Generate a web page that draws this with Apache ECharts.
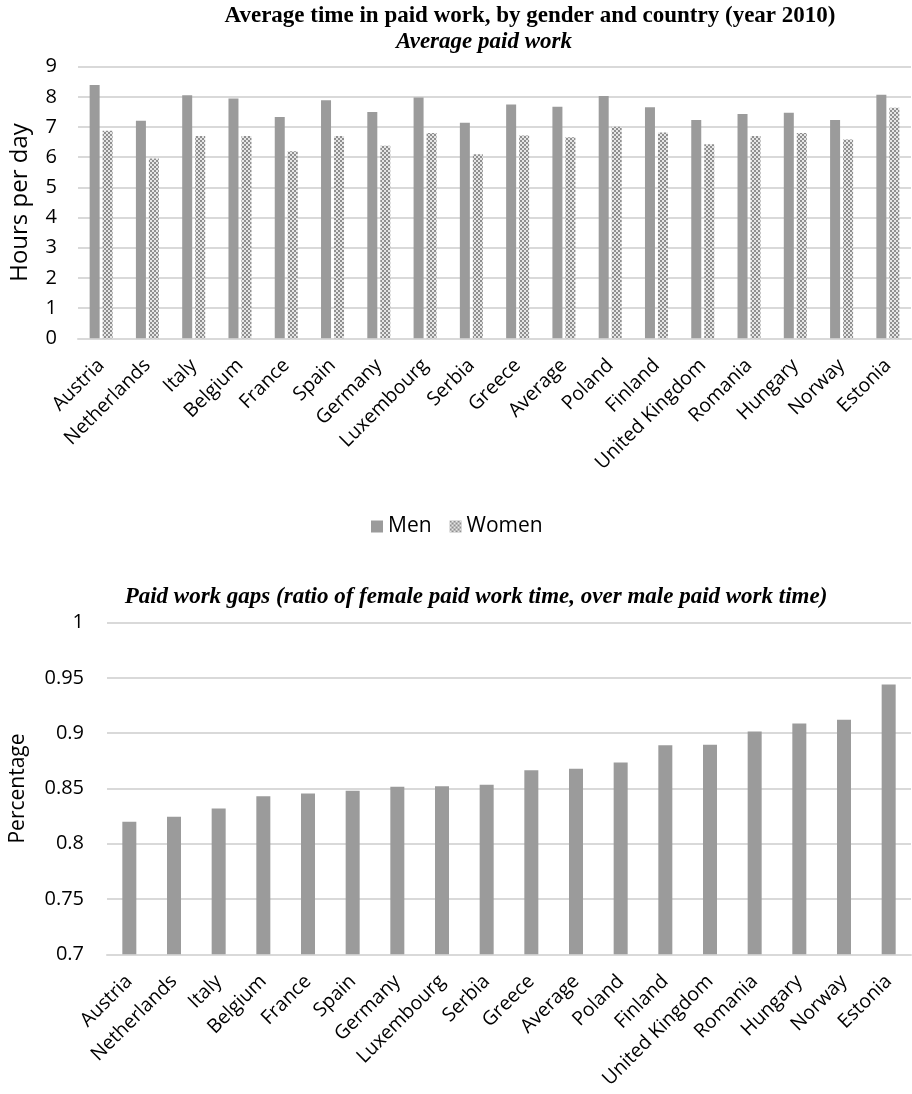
<!DOCTYPE html>
<html>
<head>
<meta charset="utf-8">
<script src="https://cdn.jsdelivr.net/npm/echarts@6/dist/echarts.min.js"></script>
<style>
html,body{margin:0;padding:0;background:#fff;}
#chart{width:912px;height:1094px;}
</style>
</head>
<body>
<div id="chart"></div>
<script>
const categories = ['Austria','Netherlands','Italy','Belgium','France','Spain','Germany','Luxembourg','Serbia','Greece','Average','Poland','Finland','United Kingdom','Romania','Hungary','Norway','Estonia'];
const menHours = [8.39,7.21,8.05,7.95,7.33,7.89,7.50,7.98,7.14,7.75,7.67,8.03,7.66,7.23,7.43,7.47,7.23,8.07];
const womenHours = [6.88,5.96,6.70,6.70,6.20,6.70,6.38,6.80,6.10,6.72,6.66,7.01,6.82,6.43,6.70,6.80,6.59,7.64];
const gapRatio = [0.820,0.8245,0.832,0.843,0.8455,0.848,0.8515,0.852,0.8533,0.8666,0.8678,0.8736,0.8892,0.8895,0.9015,0.9087,0.9123,0.9441];
const topTicks = [0,1,2,3,4,5,6,7,8,9];
const bottomTicks = [0.7,0.75,0.8,0.85,0.9,0.95,1];

const barGray = '#9b9b9b';
const gridGray = '#d9d9d9';
const sansFont = '"Open Sans", sans-serif';
const serifFont = '"Liberation Serif", "DejaVu Serif", serif';

// checkered pattern for women
const pc = document.createElement('canvas');
pc.width = 4; pc.height = 4;
const pctx = pc.getContext('2d');
pctx.fillStyle = '#e6e6e6'; pctx.fillRect(0,0,4,4);
pctx.fillStyle = '#8f8f8f';
pctx.fillRect(0,0,2,2); pctx.fillRect(2,2,2,2);
const womenPattern = {image: pc, repeat: 'repeat'};

const chart = echarts.init(document.getElementById('chart'), null, {renderer: 'canvas'});

const catAxisLabel = {
  rotate: 45, interval: 0, fontFamily: sansFont, fontSize: 19.5, color: '#000', margin: 24
};
const valLabel = {fontFamily: sansFont, fontSize: 20, color: '#000'};

chart.setOption({
  animation: false,
  backgroundColor: '#fff',
  title: [
    {text: 'Average time in paid work, by gender and country (year 2010)', left: 530, top: 5, textAlign: 'center', padding: 0,
     textStyle: {fontFamily: serifFont, fontWeight: 'bold', fontSize: 23, color: '#000'}},
    {text: 'Average paid work', left: 484, top: 31, textAlign: 'center', padding: 0,
     textStyle: {fontFamily: serifFont, fontWeight: 'bold', fontStyle: 'italic', fontSize: 23, color: '#000'}},
    {text: 'Paid work gaps (ratio of female paid work time, over male paid work time)', left: 476, top: 586, textAlign: 'center', padding: 0,
     textStyle: {fontFamily: serifFont, fontWeight: 'bold', fontStyle: 'italic', fontSize: 23, color: '#000'}}
  ],
  legend: {
    data: ['Men','Women'], left: 366, top: 511, itemWidth: 12, itemHeight: 12, itemGap: 18,
    icon: 'rect',
    textStyle: {fontFamily: sansFont, fontSize: 21, color: '#000'}
  },
  grid: [
    {left: 73, right: 1, top: 66.7, height: 271.6},
    {left: 103, right: 1, top: 622.7, height: 331.6}
  ],
  xAxis: [
    {type: 'category', gridIndex: 0, data: categories, axisTick: {show: false},
     axisLine: {lineStyle: {color: gridGray, width: 2}}, axisLabel: catAxisLabel},
    {type: 'category', gridIndex: 1, data: categories, axisTick: {show: false},
     axisLine: {lineStyle: {color: gridGray, width: 2}}, axisLabel: catAxisLabel}
  ],
  yAxis: [
    {type: 'value', gridIndex: 0, min: topTicks[0], max: topTicks[topTicks.length-1], interval: 1,
     name: 'Hours per day', nameLocation: 'middle', nameGap: 46,
     nameTextStyle: {fontFamily: sansFont, fontSize: 24, color: '#000'},
     axisLabel: Object.assign({margin: 21}, valLabel),
     splitLine: {lineStyle: {color: gridGray, width: 2}}, axisLine: {show: false}, axisTick: {show: false}},
    {type: 'value', gridIndex: 1, min: bottomTicks[0], max: bottomTicks[bottomTicks.length-1], interval: 0.05,
     name: 'Percentage', nameLocation: 'middle', nameGap: 78,
     nameTextStyle: {fontFamily: sansFont, fontSize: 21, color: '#000'},
     axisLabel: Object.assign({margin: 23, formatter: v => String(parseFloat(v.toFixed(2)))}, valLabel),
     splitLine: {lineStyle: {color: gridGray, width: 2}}, axisLine: {show: false}, axisTick: {show: false}}
  ],
  series: [
    {name: 'Men', type: 'bar', xAxisIndex: 0, yAxisIndex: 0, data: menHours, barWidth: 10, barGap: '30%',
     itemStyle: {color: barGray}},
    {name: 'Women', type: 'bar', xAxisIndex: 0, yAxisIndex: 0, data: womenHours, barWidth: 10, barGap: '30%',
     itemStyle: {color: womenPattern}},
    {name: 'Gap', type: 'bar', xAxisIndex: 1, yAxisIndex: 1, data: gapRatio, barWidth: 14,
     itemStyle: {color: barGray}}
  ]
});
</script>
</body>
</html>
